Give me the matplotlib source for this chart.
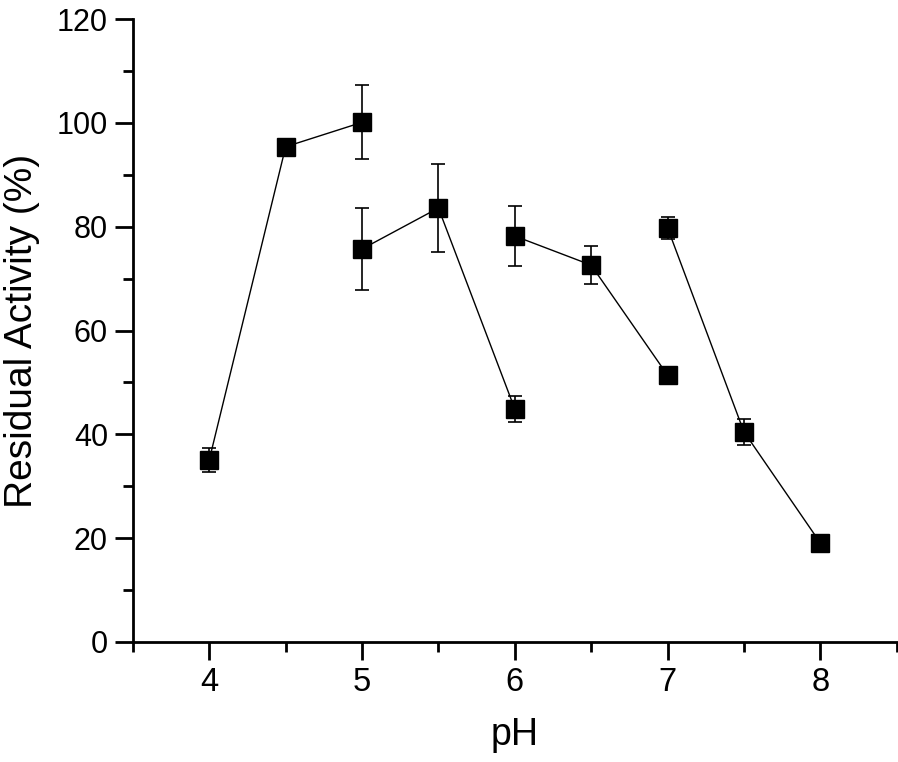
import matplotlib
matplotlib.use("Agg")
import matplotlib.pyplot as plt
from matplotlib.ticker import MultipleLocator

plt.rcParams["font.family"] = ["Liberation Sans", "DejaVu Sans"]

# four buffer series, pH vs residual activity
ph_1 = [4.0, 4.5, 5.0]
act_1 = [35.1, 95.4, 100.1]
err_1 = [2.3, 0.0, 7.1]

ph_2 = [5.0, 5.5, 6.0]
act_2 = [75.7, 83.6, 44.9]
err_2 = [7.9, 8.5, 2.5]

ph_3 = [6.0, 6.5, 7.0]
act_3 = [78.2, 72.6, 51.4]
err_3 = [5.8, 3.6, 0.0]

ph_4 = [7.0, 7.5, 8.0]
act_4 = [79.8, 40.5, 19.1]
err_4 = [2.1, 2.5, 0.0]

series = [(ph_1, act_1, err_1), (ph_2, act_2, err_2),
          (ph_3, act_3, err_3), (ph_4, act_4, err_4)]

fig = plt.figure(figsize=(8.98, 7.62), dpi=100)
ax = fig.add_axes([0.148, 0.1575, 0.8505, 0.8175])

for x, y, e in series:
    ax.errorbar(x, y, yerr=e, color="black", lw=1.0, elinewidth=1.2,
                capsize=4.7, capthick=1.2, marker="s", markersize=13,
                markerfacecolor="black", markeredgecolor="black")

ax.set_xlim(3.5, 8.5)
ax.set_ylim(0, 120)
ax.xaxis.set_major_locator(MultipleLocator(1))
ax.xaxis.set_minor_locator(MultipleLocator(0.5))
ax.yaxis.set_major_locator(MultipleLocator(20))
ax.yaxis.set_minor_locator(MultipleLocator(10))

for side in ["top", "right"]:
    ax.spines[side].set_visible(False)
for side in ["left", "bottom"]:
    ax.spines[side].set_linewidth(2)

ax.tick_params(which="major", direction="out", length=13, width=2, pad=6)
ax.tick_params(which="minor", direction="out", length=7, width=2)
ax.tick_params(axis="x", which="major", labelsize=23.5, pad=5)
ax.tick_params(axis="y", which="major", labelsize=22, pad=5)

ax.set_xlabel("pH", fontsize=27, labelpad=14)
ax.set_ylabel("Residual Activity (%)", fontsize=28, labelpad=12)

fig.savefig("out.png", dpi=100)
plt.close(fig)
